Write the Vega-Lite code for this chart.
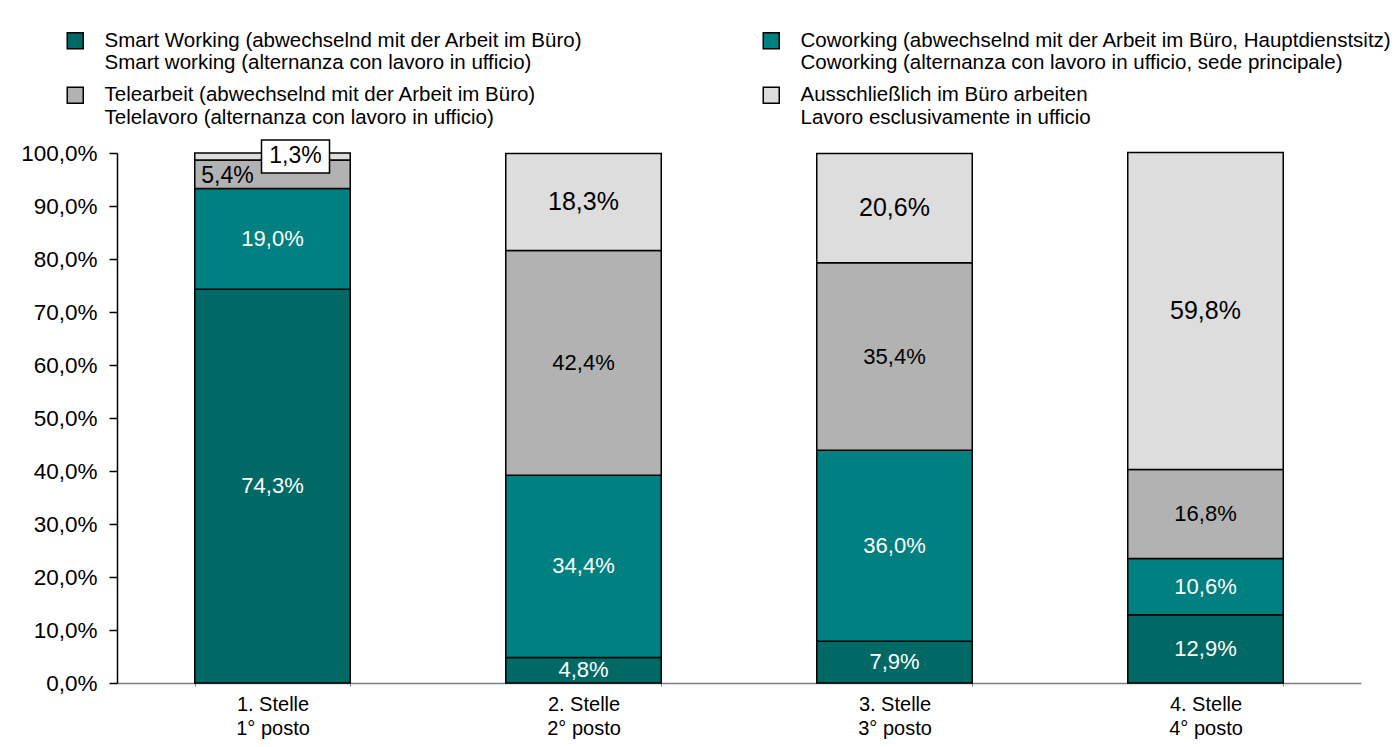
{
  "$schema": "https://vega.github.io/schema/vega-lite/v6.json",
  "autosize": "none",
  "width": 1244,
  "height": 530,
  "padding": {"left": 117, "top": 153, "right": 37, "bottom": 64},
  "background": "white",
  "config": {
    "view": {"stroke": null},
    "font": "Liberation Sans",
    "text": {"font": "Liberation Sans"}
  },
  "data": {
    "values": [
      {"cat": "1. Stelle|1° posto", "series": "Smart Working (abwechselnd mit der Arbeit im Büro)|Smart working (alternanza con lavoro in ufficio)", "value": 74.3},
      {"cat": "1. Stelle|1° posto", "series": "Coworking (abwechselnd mit der Arbeit im Büro, Hauptdienstsitz)|Coworking (alternanza con lavoro in ufficio, sede principale)", "value": 19.0},
      {"cat": "1. Stelle|1° posto", "series": "Telearbeit (abwechselnd mit der Arbeit im Büro)|Telelavoro (alternanza con lavoro in ufficio)", "value": 5.4},
      {"cat": "1. Stelle|1° posto", "series": "Ausschließlich im Büro arbeiten|Lavoro esclusivamente in ufficio", "value": 1.3},
      {"cat": "2. Stelle|2° posto", "series": "Smart Working (abwechselnd mit der Arbeit im Büro)|Smart working (alternanza con lavoro in ufficio)", "value": 4.8},
      {"cat": "2. Stelle|2° posto", "series": "Coworking (abwechselnd mit der Arbeit im Büro, Hauptdienstsitz)|Coworking (alternanza con lavoro in ufficio, sede principale)", "value": 34.4},
      {"cat": "2. Stelle|2° posto", "series": "Telearbeit (abwechselnd mit der Arbeit im Büro)|Telelavoro (alternanza con lavoro in ufficio)", "value": 42.4},
      {"cat": "2. Stelle|2° posto", "series": "Ausschließlich im Büro arbeiten|Lavoro esclusivamente in ufficio", "value": 18.3},
      {"cat": "3. Stelle|3° posto", "series": "Smart Working (abwechselnd mit der Arbeit im Büro)|Smart working (alternanza con lavoro in ufficio)", "value": 7.9},
      {"cat": "3. Stelle|3° posto", "series": "Coworking (abwechselnd mit der Arbeit im Büro, Hauptdienstsitz)|Coworking (alternanza con lavoro in ufficio, sede principale)", "value": 36.0},
      {"cat": "3. Stelle|3° posto", "series": "Telearbeit (abwechselnd mit der Arbeit im Büro)|Telelavoro (alternanza con lavoro in ufficio)", "value": 35.4},
      {"cat": "3. Stelle|3° posto", "series": "Ausschließlich im Büro arbeiten|Lavoro esclusivamente in ufficio", "value": 20.6},
      {"cat": "4. Stelle|4° posto", "series": "Smart Working (abwechselnd mit der Arbeit im Büro)|Smart working (alternanza con lavoro in ufficio)", "value": 12.9},
      {"cat": "4. Stelle|4° posto", "series": "Coworking (abwechselnd mit der Arbeit im Büro, Hauptdienstsitz)|Coworking (alternanza con lavoro in ufficio, sede principale)", "value": 10.6},
      {"cat": "4. Stelle|4° posto", "series": "Telearbeit (abwechselnd mit der Arbeit im Büro)|Telelavoro (alternanza con lavoro in ufficio)", "value": 16.8},
      {"cat": "4. Stelle|4° posto", "series": "Ausschließlich im Büro arbeiten|Lavoro esclusivamente in ufficio", "value": 59.8}
    ]
  },
  "transform": [
    {"calculate": "indexof(['Smart Working (abwechselnd mit der Arbeit im Büro)|Smart working (alternanza con lavoro in ufficio)','Coworking (abwechselnd mit der Arbeit im Büro, Hauptdienstsitz)|Coworking (alternanza con lavoro in ufficio, sede principale)','Telearbeit (abwechselnd mit der Arbeit im Büro)|Telelavoro (alternanza con lavoro in ufficio)','Ausschließlich im Büro arbeiten|Lavoro esclusivamente in ufficio'], datum.series)", "as": "k"},
    {"stack": "value", "groupby": ["cat"], "sort": [{"field": "k", "order": "ascending"}], "as": ["y0", "y1"]},
    {"calculate": "(datum.y0 + datum.y1) / 2", "as": "mid"},
    {"calculate": "replace(format(datum.value, '.1f'), '.', ',') + '%'", "as": "lbl"}
  ],
  "encoding": {
    "x": {
      "field": "cat", "type": "nominal", "sort": null,
      "scale": {"paddingInner": 0.5, "paddingOuter": 0.25},
      "axis": {
        "title": null, "labelAngle": 0, "labelFontSize": 20, "labelColor": "black",
        "labelExpr": "split(datum.label, '|')", "labelLineHeight": 24, "labelPadding": 8,
        "domainColor": "#808080", "domainWidth": 1.5, "tickColor": "#808080", "tickSize": 3,
        "tickBand": "extent", "labelBaseline": "top"
      }
    }
  },
  "layer": [
    {
      "mark": {"type": "bar", "stroke": "black", "strokeWidth": 1.5},
      "encoding": {
        "y": {
          "field": "y1", "type": "quantitative",
          "scale": {"domain": [0, 100], "nice": false},
          "axis": {
            "title": null, "values": [0, 10, 20, 30, 40, 50, 60, 70, 80, 90, 100],
            "labelExpr": "replace(format(datum.value, '.1f'), '.', ',') + '%'",
            "labelFontSize": 22.5, "labelColor": "black", "labelPadding": 12,
            "grid": false, "domainColor": "black", "domainWidth": 1.5,
            "tickColor": "black", "tickSize": 8, "tickWidth": 1.5
          }
        },
        "y2": {"field": "y0"},
        "color": {
          "field": "series", "type": "nominal",
          "scale": {
            "domain": [
              "Smart Working (abwechselnd mit der Arbeit im Büro)|Smart working (alternanza con lavoro in ufficio)",
              "Coworking (abwechselnd mit der Arbeit im Büro, Hauptdienstsitz)|Coworking (alternanza con lavoro in ufficio, sede principale)",
              "Telearbeit (abwechselnd mit der Arbeit im Büro)|Telelavoro (alternanza con lavoro in ufficio)",
              "Ausschließlich im Büro arbeiten|Lavoro esclusivamente in ufficio"
            ],
            "range": ["#006966", "#008080", "#B2B2B2", "#DDDDDD"]
          },
          "legend": {
            "title": null, "orient": "none", "legendX": -52, "legendY": -123,
            "direction": "horizontal", "columns": 2, "columnPadding": 177, "rowPadding": 10,
            "symbolType": "square", "symbolSize": 256, "symbolStrokeColor": "black", "symbolStrokeWidth": 1.5,
            "labelExpr": "split(datum.label, '|')", "labelFontSize": 20.5, "labelColor": "black",
            "labelLimit": 700, "labelOffset": 19, "labelBaseline": "middle", "labelLineHeight": 22
          }
        }
      }
    },
    {
      "transform": [{"filter": "!(datum.k >= 2 && datum.value < 6)"}],
      "mark": {"type": "text", "baseline": "middle", "align": "center"},
      "encoding": {
        "y": {"field": "mid", "type": "quantitative"},
        "text": {"field": "lbl"},
        "color": {"condition": {"test": "datum.k < 2", "value": "white"}, "value": "black"},
        "size": {"condition": {"test": "datum.k == 3", "value": 25}, "value": 22}
      }
    },
    {
      "transform": [{"filter": "datum.k == 2 && datum.value < 6"}],
      "mark": {"type": "text", "baseline": "middle", "align": "center", "dx": -45, "dy": 2, "fontSize": 23, "color": "black"},
      "encoding": {
        "y": {"field": "mid", "type": "quantitative"},
        "text": {"field": "lbl"}
      }
    },
    {
      "transform": [{"filter": "datum.k == 3 && datum.value < 6"}],
      "mark": {"type": "point", "shape": "M-1,-0.485L1,-0.485L1,0.485L-1,0.485Z", "filled": true, "fill": "white", "stroke": "black", "strokeWidth": 1.5, "opacity": 1, "size": 4624, "xOffset": 23},
      "encoding": {
        "y": {"field": "mid", "type": "quantitative"}
      }
    },
    {
      "transform": [{"filter": "datum.k == 3 && datum.value < 6"}],
      "mark": {"type": "text", "baseline": "middle", "align": "center", "dx": 23, "fontSize": 23, "color": "black"},
      "encoding": {
        "y": {"field": "mid", "type": "quantitative"},
        "text": {"field": "lbl"}
      }
    }
  ]
}
